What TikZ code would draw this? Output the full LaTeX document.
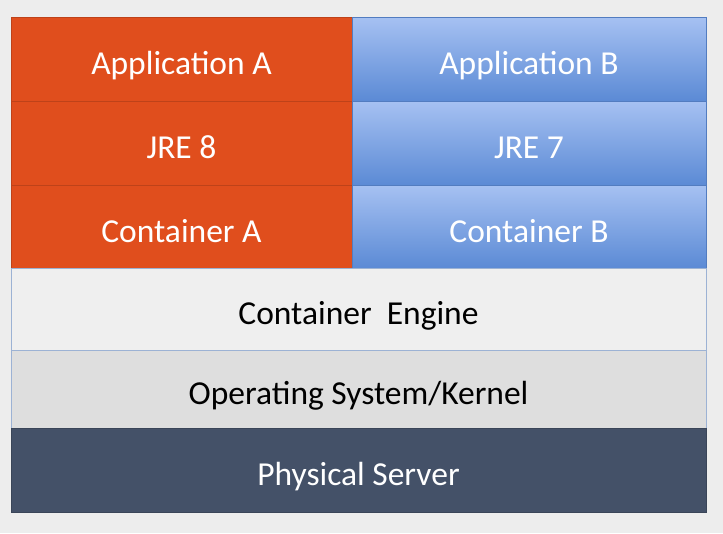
\documentclass[tikz,border=0pt]{standalone}
\usepackage{fontspec}
\setmainfont{Carlito}
\usepackage{xcolor}
\usepackage{tikz}
\usetikzlibrary{positioning}
\definecolor{pagebg}{HTML}{EDEDED}
\definecolor{rust}{HTML}{E04E1D}
\definecolor{skytop}{HTML}{A6C1F2}
\definecolor{skybot}{HTML}{5B8AD5}
\definecolor{engine}{HTML}{EFEFEF}
\definecolor{kernel}{HTML}{DEDEDE}
\definecolor{server}{HTML}{445168}
\definecolor{rim}{HTML}{9CB2D4}
\tikzset{
  layer/.style={inner sep=0pt,outer sep=0pt,minimum height=84pt,line width=0.8pt,
    font=\fontsize{33.5}{36}\selectfont,text=white,text height=31pt,text depth=0pt},
  appa/.style={layer,fill=rust,draw=rust!85!black,minimum width=341pt},
  appb/.style={layer,top color=skytop,bottom color=skybot,draw=skybot!90!black,minimum width=354pt},
  shared/.style={layer,draw=rim,minimum width=695pt,text=black},
  hw/.style={shared,fill=server,draw=server!85!black,text=white}
}
\begin{document}
\begin{tikzpicture}
  \fill[pagebg] (0,0) rectangle (723pt,-533pt);
  \useasboundingbox (0,0) rectangle (723pt,-533pt);

  % left stack
  \node[appa,anchor=north west] (appA) at (11pt,-17pt) {Application A};
  \node[appa,below=0pt of appA] (jreA) {JRE 8};
  \node[appa,below=0pt of jreA,minimum height=83pt] (conA) {Container A};
  % right stack
  \node[appb,right=0pt of appA] (appB) {Application B};
  \node[appb,below=0pt of appB] (jreB) {JRE 7};
  \node[appb,below=0pt of jreB,minimum height=83pt] (conB) {Container B};
  % shared layers
  \node[shared,fill=engine,anchor=north west,minimum height=82pt] (eng) at (conA.south west) {Container\ \ Engine};
  \node[shared,fill=kernel,below=0pt of eng,minimum height=78pt] (os) {Operating System/Kernel};
  \node[hw,below=0pt of os] (srv) {Physical Server};
\end{tikzpicture}
\end{document}
